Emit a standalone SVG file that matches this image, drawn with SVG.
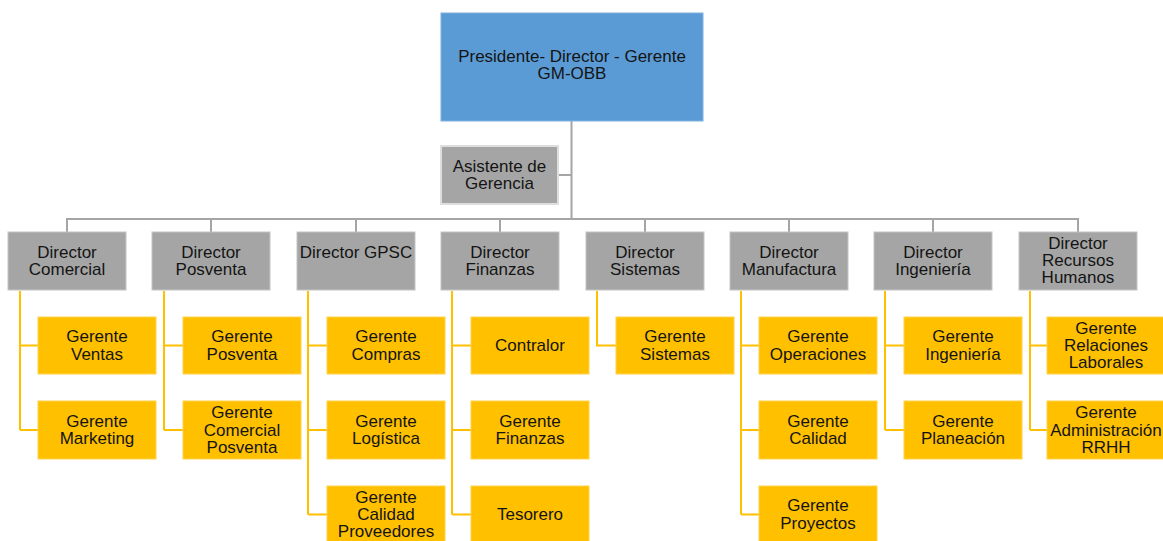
<svg xmlns="http://www.w3.org/2000/svg" width="1163" height="541" viewBox="0 0 1163 541">
<style>
.t{font-family:"Liberation Sans",Arial,sans-serif;font-size:17px;fill:#141414;text-anchor:middle}
.top{fill:#5B9BD5;stroke:#7fb0de;stroke-width:1}
.dir{fill:#A5A5A5;stroke:#c4c4c4;stroke-width:1}
.asi{fill:#A5A5A5;stroke:#dedede;stroke-width:2}
.ger{fill:#FFC000;stroke:#ffd24d;stroke-width:1}
.g{fill:none;stroke:#A5A5A5;stroke-width:2}
.y{fill:none;stroke:#FFC000;stroke-width:2}
</style>
<rect width="1163" height="541" fill="#fff"/>
<g id="connectors">
<path class="g" d="M571.5 121V219M558 175H571.5M67 219H1078M67 218V232M211 218V232M356 218V232M500 218V232M645 218V232M789 218V232M933 218V232M1078 218V232"/>
<path class="y" d="M20 291V430M20 345.5H38M20 430H38"/>
<path class="y" d="M164 291V430M164 345.5H183M164 430H183"/>
<path class="y" d="M308 291V514.5M308 345.5H327M308 430H327M308 514.5H327"/>
<path class="y" d="M452 291V514.5M452 345.5H471M452 430H471M452 514.5H471"/>
<path class="y" d="M597 291V345.5H616"/>
<path class="y" d="M741 291V514.5M741 345.5H759M741 430H759M741 514.5H759"/>
<path class="y" d="M885 291V430M885 345.5H904M885 430H904"/>
<path class="y" d="M1030 291V430M1030 345.5H1047M1030 430H1047"/>
</g>
<g id="presidente"><rect class="top" x="441" y="13" width="262" height="108"/><text class="t"><tspan x="572" y="62">Presidente- Director - Gerente</tspan><tspan x="572" y="79.3">GM-OBB</tspan></text></g>
<g id="asistente"><rect class="asi" x="441" y="146" width="117" height="58"/><text class="t"><tspan x="499.5" y="171.5">Asistente de</tspan><tspan x="499.5" y="188.8">Gerencia</tspan></text></g>

<g id="dir-comercial"><rect class="dir" x="8" y="232" width="118" height="58"/><text class="t"><tspan x="67" y="257.5">Director</tspan><tspan x="67" y="274.8">Comercial</tspan></text></g>
<g id="dir-posventa"><rect class="dir" x="152" y="232" width="118" height="58"/><text class="t"><tspan x="211" y="257.5">Director</tspan><tspan x="211" y="274.8">Posventa</tspan></text></g>
<g id="dir-gpsc"><rect class="dir" x="297" y="232" width="118" height="58"/><text class="t"><tspan x="356" y="257.5">Director GPSC</tspan></text></g>
<g id="dir-finanzas"><rect class="dir" x="441" y="232" width="118" height="58"/><text class="t"><tspan x="500" y="257.5">Director</tspan><tspan x="500" y="274.8">Finanzas</tspan></text></g>
<g id="dir-sistemas"><rect class="dir" x="586" y="232" width="118" height="58"/><text class="t"><tspan x="645" y="257.5">Director</tspan><tspan x="645" y="274.8">Sistemas</tspan></text></g>
<g id="dir-manufactura"><rect class="dir" x="730" y="232" width="118" height="58"/><text class="t"><tspan x="789" y="257.5">Director</tspan><tspan x="789" y="274.8">Manufactura</tspan></text></g>
<g id="dir-ingenieria"><rect class="dir" x="874" y="232" width="118" height="58"/><text class="t"><tspan x="933" y="257.5">Director</tspan><tspan x="933" y="274.8">Ingeniería</tspan></text></g>
<g id="dir-rrhh"><rect class="dir" x="1019" y="232" width="118" height="58"/><text class="t"><tspan x="1078" y="248.5">Director</tspan><tspan x="1078" y="265.8">Recursos</tspan><tspan x="1078" y="283.1">Humanos</tspan></text></g>

<g id="ger-ventas"><rect class="ger" x="38" y="317" width="118" height="57"/><text class="t"><tspan x="97" y="342.3">Gerente</tspan><tspan x="97" y="359.6">Ventas</tspan></text></g>
<g id="ger-marketing"><rect class="ger" x="38" y="401" width="118" height="58"/><text class="t"><tspan x="97" y="426.8">Gerente</tspan><tspan x="97" y="444.1">Marketing</tspan></text></g>

<g id="ger-posventa"><rect class="ger" x="183" y="317" width="118" height="57"/><text class="t"><tspan x="242" y="342.3">Gerente</tspan><tspan x="242" y="359.6">Posventa</tspan></text></g>
<g id="ger-comercial-posventa"><rect class="ger" x="183" y="401" width="118" height="58"/><text class="t"><tspan x="242" y="418.2">Gerente</tspan><tspan x="242" y="435.5">Comercial</tspan><tspan x="242" y="452.8">Posventa</tspan></text></g>

<g id="ger-compras"><rect class="ger" x="327" y="317" width="118" height="57"/><text class="t"><tspan x="386" y="342.3">Gerente</tspan><tspan x="386" y="359.6">Compras</tspan></text></g>
<g id="ger-logistica"><rect class="ger" x="327" y="401" width="118" height="58"/><text class="t"><tspan x="386" y="426.8">Gerente</tspan><tspan x="386" y="444.1">Logística</tspan></text></g>
<g id="ger-calidad-proveedores"><rect class="ger" x="327" y="486" width="118" height="58"/><text class="t"><tspan x="386" y="502.8">Gerente</tspan><tspan x="386" y="520.1">Calidad</tspan><tspan x="386" y="537.4">Proveedores</tspan></text></g>

<g id="contralor"><rect class="ger" x="471" y="317" width="118" height="57"/><text class="t"><tspan x="530" y="350.5">Contralor</tspan></text></g>
<g id="ger-finanzas"><rect class="ger" x="471" y="401" width="118" height="58"/><text class="t"><tspan x="530" y="426.8">Gerente</tspan><tspan x="530" y="444.1">Finanzas</tspan></text></g>
<g id="tesorero"><rect class="ger" x="471" y="486" width="118" height="58"/><text class="t"><tspan x="530" y="520">Tesorero</tspan></text></g>

<g id="ger-sistemas"><rect class="ger" x="616" y="317" width="118" height="57"/><text class="t"><tspan x="675" y="342.3">Gerente</tspan><tspan x="675" y="359.6">Sistemas</tspan></text></g>

<g id="ger-operaciones"><rect class="ger" x="759" y="317" width="118" height="57"/><text class="t"><tspan x="818" y="342.3">Gerente</tspan><tspan x="818" y="359.6">Operaciones</tspan></text></g>
<g id="ger-calidad"><rect class="ger" x="759" y="401" width="118" height="58"/><text class="t"><tspan x="818" y="426.8">Gerente</tspan><tspan x="818" y="444.1">Calidad</tspan></text></g>
<g id="ger-proyectos"><rect class="ger" x="759" y="486" width="118" height="58"/><text class="t"><tspan x="818" y="511.3">Gerente</tspan><tspan x="818" y="528.6">Proyectos</tspan></text></g>

<g id="ger-ingenieria"><rect class="ger" x="904" y="317" width="118" height="57"/><text class="t"><tspan x="963" y="342.3">Gerente</tspan><tspan x="963" y="359.6">Ingeniería</tspan></text></g>
<g id="ger-planeacion"><rect class="ger" x="904" y="401" width="118" height="58"/><text class="t"><tspan x="963" y="426.8">Gerente</tspan><tspan x="963" y="444.1">Planeación</tspan></text></g>

<g id="ger-relaciones"><rect class="ger" x="1047" y="317" width="118" height="57"/><text class="t"><tspan x="1106" y="333.7">Gerente</tspan><tspan x="1106" y="351">Relaciones</tspan><tspan x="1106" y="368.3">Laborales</tspan></text></g>
<g id="ger-admin-rrhh"><rect class="ger" x="1047" y="401" width="118" height="58"/><text class="t"><tspan x="1106" y="418.2">Gerente</tspan><tspan x="1106" y="435.5">Administración</tspan><tspan x="1106" y="452.8">RRHH</tspan></text></g>
</svg>
